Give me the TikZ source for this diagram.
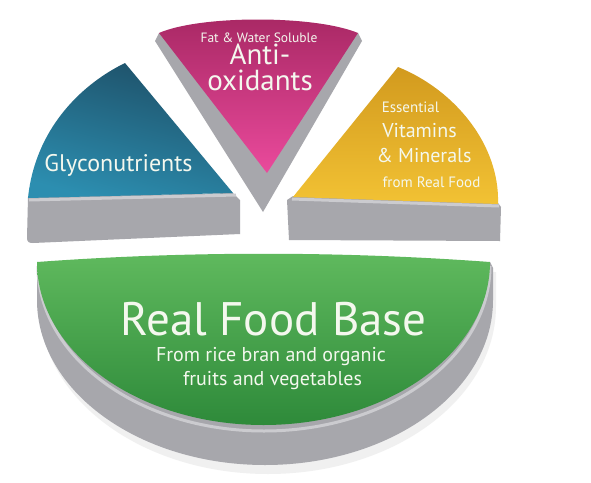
\documentclass[tikz,border=0pt]{standalone}
\usepackage{fontspec}
\setmainfont{PT Sans}
\definecolor{greyside}{HTML}{A7A7AC}
\definecolor{greylight}{HTML}{CBCBCF}
\definecolor{txt}{HTML}{F4F8EE}
\definecolor{greenT}{RGB}{96,186,94}
\definecolor{greenB}{RGB}{46,138,58}
\definecolor{blueT}{RGB}{30,80,104}
\definecolor{blueB}{RGB}{44,142,176}
\definecolor{pinkT}{RGB}{168,40,100}
\definecolor{pinkB}{RGB}{234,74,156}
\definecolor{yelT}{RGB}{210,154,30}
\definecolor{yelB}{RGB}{242,194,52}
\tikzset{
  sidewall/.style={fill=greyside},
  bevel/.style={draw=greylight, line width=3pt},
  lbl/.style={text=txt, anchor=base, inner sep=0pt},
}
\newcommand{\fsz}[1]{\fontsize{#1}{#1}\selectfont}
\begin{document}
\begin{tikzpicture}[x=1pt,y=-1pt]
\useasboundingbox (0,0) rectangle (591,482);
\fill[white] (0,0) rectangle (591,482);
% ---------- base (green) ----------
\fill[black!6] (40,270) -- (40,306) arc[start angle=180,end angle=0,x radius=228,y radius=168] -- (496,272) -- cycle;
\path[sidewall] (37,262) -- (37,300) arc[start angle=180,end angle=0,x radius=228,y radius=165] -- (493,268) -- (490,262) -- cycle;
\draw[bevel] (38,266) arc[start angle=180,end angle=0,x radius=226,y radius=165];
\shade[top color=greenT, bottom color=greenB]
  (37,262) arc[start angle=180,end angle=0,x radius=226.5,y radius=163]
  .. controls (340,251) and (187,251) .. (37,262) -- cycle;
% ---------- blue slice ----------
\path[sidewall] (28,197) -- (27,238) .. controls (27,242) and (29,243) .. (33,243) -- (240,234) -- (240,200) -- (233,193) -- cycle;
\draw[bevel] (29,200) -- (236,195);
\shade[top color=blueT, bottom color=blueB, shading angle=-15]
  (125,63) .. controls (80,85) and (35,130) .. (28,198) -- (233,193) -- cycle;
% ---------- magenta slice ----------
\path[sidewall] (159,33) -- (155,41) -- (263,212) -- (362,41) -- (358,33) -- cycle;
\shade[top color=pinkT, bottom color=pinkB]
  (159,33) .. controls (200,15) and (315,15) .. (358,33) -- (267,173) -- cycle;
% ---------- yellow slice ----------
\path[sidewall] (293,196) -- (287,200) -- (289,240) -- (500,241) -- (501,207) -- (498,203) -- cycle;
\draw[bevel] (292,199) -- (499,206);
\shade[top color=yelT, bottom color=yelB]
  (398,67) .. controls (455,90) and (500,145) .. (498,204) -- (293,197) -- cycle;
% ---------- labels ----------
\node[lbl, font=\fsz{24}] (gly) at (118.5,171) {Glyconutrients};
\node[lbl, font=\fsz{13.5}] (fat) at (259,42) {Fat \& Water Soluble};
\node[text=txt, inner sep=0pt, anchor=south, align=center, font=\fontsize{29}{25.5}\selectfont] (anti) at (260,91) {Anti-\\oxidants};
\node[lbl, font=\fsz{15}] (ess) at (410.5,112) {Essential};
\node[lbl, font=\fsz{20}] (vit) at (419.5,137) {Vitamins};
\node[lbl, font=\fsz{20}] (min) at (424,162) {\& Minerals};
\node[lbl, font=\fsz{15}] (frf) at (431.5,187) {from Real Food};
\node[lbl, font=\fsz{47}] (rfb) at (273.5,335) {Real Food Base};
\node[lbl, font=\fsz{20}] (rice) at (271,361) {From rice bran and organic};
\node[lbl, font=\fsz{20}] (veg) at (272.5,385) {fruits and vegetables};
\end{tikzpicture}
\end{document}
